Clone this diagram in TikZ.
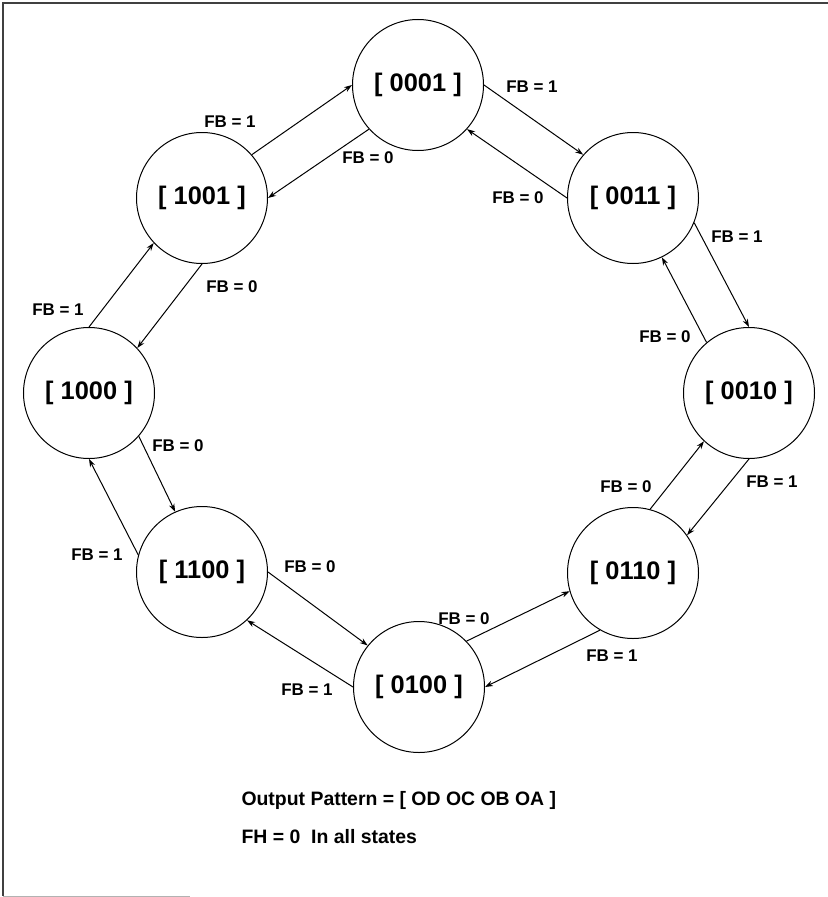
\documentclass[tikz,border=0pt]{standalone}
\usepackage{fontspec}
\setmainfont{Liberation Sans}
\usetikzlibrary{arrows.meta}

\begin{document}
\begin{tikzpicture}[x=1bp, y=-1bp, line width=1bp, >={Stealth[length=8bp,width=5.5bp]},
        state/.style={draw, circle, minimum size=131bp, inner sep=0pt, font=\fontsize{25.5}{30}\selectfont\bfseries},
        fb/.style={inner sep=0pt, font=\fontsize{17}{20}\selectfont\bfseries},
        note/.style={anchor=west, inner sep=0pt, font=\fontsize{19.5}{23}\selectfont\bfseries}]
        \useasboundingbox (0,0) rectangle (828,897);
        % frame of the scan
        \draw[line width=1.5bp, black!75] (828,3) -- (3,3) -- (3,896);
        \draw[gray!60] (3,896) -- (190,896);

        % states
        \node[state] (s0001) at (418,85) {[ 0001 ]};
        \node[state] (s0011) at (633,198) {[ 0011 ]};
        \node[state] (s0010) at (749,393) {[ 0010 ]};
        \node[state] (s0110) at (633,573) {[ 0110 ]};
        \node[state] (s0100) at (419,687) {[ 0100 ]};
        \node[state] (s1100) at (202,572) {[ 1100 ]};
        \node[state] (s1000) at (89,393) {[ 1000 ]};
        \node[state] (s1001) at (202,198) {[ 1001 ]};

        % transitions
        \draw[->] (s1001.41) -- (s0001.180);
        \draw[->] (s0001.222) -- (s1001.0);
        \draw[->] (s0001.0) -- (s0011.139);
        \draw[->] (s0011.180) -- (s0001.-42);
        \draw[->] (s0011.-22) -- (s0010.90);
        \draw[->] (s0010.130) -- (s0011.-64);
        \draw[->] (s0010.-90) -- (s0110.35);
        \draw[->] (s0110.75) -- (s0010.-133);
        \draw[->] (s0110.-120) -- (s0100.0);
        \draw[->] (s0100.44) -- (s0110.-164);
        \draw[->] (s0100.180) -- (s1100.-47);
        \draw[->] (s1100.0) -- (s0100.141);
        \draw[->] (s1100.165) -- (s1000.-90);
        \draw[->] (s1000.-41) -- (s1100.114);
        \draw[->] (s1000.90) -- (s1001.223);
        \draw[->] (s1001.-90) -- (s1000.43);

        % feedback labels
        \node[fb] (fbA) at (230,122) {FB = 1};
        \node[fb] (fbB) at (368,158) {FB = 0};
        \node[fb] (fbC) at (532,87) {FB = 1};
        \node[fb] (fbD) at (518,198) {FB = 0};
        \node[fb] (fbE) at (737,237) {FB = 1};
        \node[fb] (fbF) at (665,337) {FB = 0};
        \node[fb] (fbG) at (772,482) {FB = 1};
        \node[fb] (fbH) at (626,487) {FB = 0};
        \node[fb] (fbI) at (612,656) {FB = 1};
        \node[fb] (fbJ) at (464,619) {FB = 0};
        \node[fb] (fbK) at (307,690) {FB = 1};
        \node[fb] (fbL) at (310,567) {FB = 0};
        \node[fb] (fbM) at (97,555) {FB = 1};
        \node[fb] (fbN) at (178,446) {FB = 0};
        \node[fb] (fbO) at (58,310) {FB = 1};
        \node[fb] (fbP) at (232,287) {FB = 0};

        % notes
        \node[note] (pattern) at (241,800) {Output Pattern = [ OD OC OB OA ]};
        \node[note] (fhnote) at (241,837) {FH = 0\ \ In all states};
    \end{tikzpicture}
\end{document}
